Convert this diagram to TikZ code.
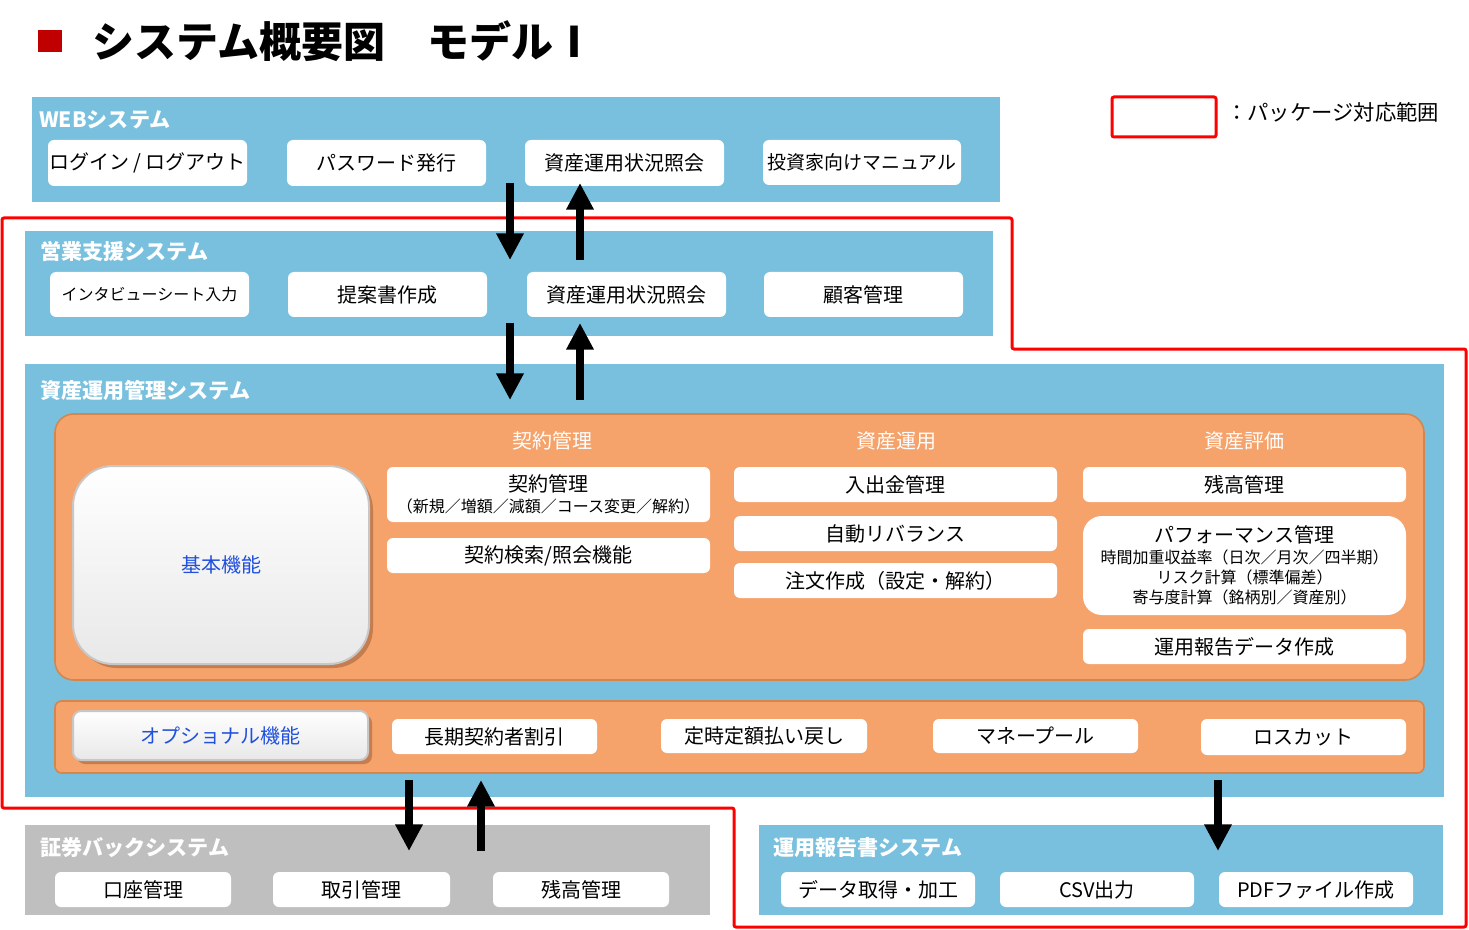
\documentclass[tikz,border=0pt]{standalone}
\usepackage{fontspec}
\setmainfont{Noto Sans CJK JP}
\usetikzlibrary{arrows.meta,shadows}
\definecolor{skyb}{HTML}{78C0DE}
\definecolor{orng}{HTML}{F6A26B}
\definecolor{orngD}{HTML}{D4864F}
\definecolor{shadowC}{HTML}{C07A4C}
\definecolor{grayb}{HTML}{BFBFBF}
\definecolor{titlered}{HTML}{C00000}
\definecolor{bluetxt}{HTML}{2050DC}
\definecolor{pkgred}{HTML}{FF0000}
\newcommand{\boxnode}[7]{\node[#1, anchor=north west, inner sep=0pt, outer sep=0pt, minimum width={(#4-#2)*0.75pt}, minimum height={(#5-#3)*0.75pt}] (#6) at (#2,#3) {#7};}
\tikzset{
  sysbox/.style={fill=skyb},
  backbox/.style={fill=grayb},
  hdr/.style={anchor=west, text=white, font=\fontsize{15.8}{18}\selectfont\bfseries, inner sep=0pt},
  btn/.style={fill=white, rounded corners=4.5pt, align=center, font=\fontsize{15}{18}\selectfont},
  smallbtn/.style={btn, font=\fontsize{12}{15}\selectfont},
  panel/.style={fill=orng, draw=orngD, line width=1.2pt, rounded corners=14pt},
  bar/.style={fill=orng, draw=orngD, line width=1.2pt, rounded corners=5pt},
  feat/.style={top color=white, bottom color=black!9, draw=black!22, line width=1.5pt, text=bluetxt, font=\fontsize{15}{18}\selectfont, drop shadow={shadow xshift=3pt, shadow yshift=-3pt, fill=shadowC, opacity=0.9}},
  colhdr/.style={text=white, font=\fontsize{15}{18}\selectfont, inner sep=0pt},
  arr/.style={line width=6.4pt, -{Triangle[width=19.5pt,length=20pt]}},
  pkgline/.style={draw=pkgred, line width=2.25pt, rounded corners=1.5pt},
}
\begin{document}
\begin{tikzpicture}[x=0.75pt,y=-0.75pt]
\useasboundingbox (0,0) rectangle (1469,930);
% title
\boxnode{fill=titlered}{38}{30}{62}{52}{bullet}{}
\node[anchor=west, inner sep=0pt, font=\fontsize{31.5}{36}\selectfont\bfseries] (title) at (92,41) {システム概要図　モデルⅠ};
% legend
\boxnode{pkgline}{1112}{97}{1216}{137}{legbox}{}
\node[anchor=west, inner sep=0pt, font=\fontsize{16}{18}\selectfont] (legtxt) at (1226,112) {：パッケージ対応範囲};
% package outline
\draw[pkgline] (2,218) -- (1012,218) -- (1012,349) -- (1466,349) -- (1466,927) -- (734,927) -- (734,808) -- (2,808) -- cycle;
% WEB system
\boxnode{sysbox}{32}{97}{1000}{202}{web}{}
\node[hdr] (webT) at (39,120) {WEBシステム};
\boxnode{btn}{48}{140}{247}{186}{web1}{ログイン / ログアウト}
\boxnode{btn}{287}{140}{486}{186}{web2}{パスワード発行}
\boxnode{btn}{525}{140}{724}{186}{web3}{資産運用状況照会}
\boxnode{btn, font=\fontsize{14.2}{17}\selectfont}{763}{140}{961}{185}{web4}{投資家向けマニュアル}
% sales support
\boxnode{sysbox}{25}{231}{993}{336}{eigyo}{}
\node[hdr] (eigyoT) at (40,251) {営業支援システム};
\boxnode{smallbtn}{50}{272}{249}{317}{s1}{インタビューシート入力}
\boxnode{btn}{288}{272}{487}{317}{s2}{提案書作成}
\boxnode{btn}{527}{272}{726}{317}{s3}{資産運用状況照会}
\boxnode{btn}{764}{272}{963}{317}{s4}{顧客管理}
% asset management system
\boxnode{sysbox}{25}{364}{1444}{797}{shisan}{}
\node[hdr] (shisanT) at (40,390) {資産運用管理システム};
\boxnode{panel}{55}{414}{1424}{680}{basic}{}
\node[colhdr] (c1) at (552,441) {契約管理};
\node[colhdr] (c2) at (896,441) {資産運用};
\node[colhdr] (c3) at (1244,441) {資産評価};
\boxnode{feat, rounded corners=30pt}{73}{466}{369}{664}{kihon}{基本機能}
\boxnode{btn, font=\fontsize{12}{15}\selectfont}{387}{467}{710}{522}{k1}{{\fontsize{15}{18}\selectfont 契約管理}\\[1pt]（新規／増額／減額／コース変更／解約）}
\boxnode{btn}{387}{538}{710}{573}{k2}{契約検索/照会機能}
\boxnode{btn}{734}{467}{1057}{502}{u1}{入出金管理}
\boxnode{btn}{734}{516}{1057}{551}{u2}{自動リバランス}
\boxnode{btn}{734}{563}{1057}{598}{u3}{注文作成（設定・解約）}
\boxnode{btn}{1083}{467}{1406}{502}{h1}{残高管理}
\boxnode{btn, rounded corners=14pt, font=\fontsize{12}{15}\selectfont}{1083}{516}{1406}{615}{h2}{{\fontsize{15}{18}\selectfont パフォーマンス管理}\\[1pt]時間加重収益率（日次／月次／四半期）\\リスク計算（標準偏差）\\寄与度計算（銘柄別／資産別）}
\boxnode{btn}{1083}{629}{1406}{664}{h3}{運用報告データ作成}
\boxnode{bar}{55}{701}{1424}{773}{optbar}{}
\boxnode{feat, rounded corners=6pt}{73}{711}{368}{760}{opt}{オプショナル機能}
\boxnode{btn}{392}{719}{597}{754}{o1}{長期契約者割引}
\boxnode{btn}{661}{719}{867}{753}{o2}{定時定額払い戻し}
\boxnode{btn}{933}{719}{1138}{753}{o3}{マネープール}
\boxnode{btn}{1201}{719}{1406}{755}{o4}{ロスカット}
% securities back system
\boxnode{backbox}{25}{825}{710}{915}{back}{}
\node[hdr] (backT) at (40,848) {証券バックシステム};
\boxnode{btn}{55}{872}{231}{907}{b1}{口座管理}
\boxnode{btn}{273}{872}{450}{907}{b2}{取引管理}
\boxnode{btn}{493}{872}{669}{907}{b3}{残高管理}
% report system
\boxnode{sysbox}{759}{825}{1443}{915}{report}{}
\node[hdr] (reportT) at (773,848) {運用報告書システム};
\boxnode{btn}{781}{872}{975}{907}{r1}{データ取得・加工}
\boxnode{btn}{1000}{872}{1194}{907}{r2}{CSV出力}
\boxnode{btn}{1219}{872}{1413}{907}{r3}{PDFファイル作成}
% arrow end points
\coordinate (a1s) at (510,183); \coordinate (a1e) at (510,260);
\coordinate (a2s) at (580,260); \coordinate (a2e) at (580,183);
\coordinate (a3s) at (510,323); \coordinate (a3e) at (510,400);
\coordinate (a4s) at (580,400); \coordinate (a4e) at (580,323);
\coordinate (a5s) at (409,780); \coordinate (a5e) at (409,851);
\coordinate (a6s) at (481,851); \coordinate (a6e) at (481,780);
\coordinate (a7s) at (1218,780); \coordinate (a7e) at (1218,851);
\draw[arr] (a1s) -- (a1e);
\draw[arr] (a2s) -- (a2e);
\draw[arr] (a3s) -- (a3e);
\draw[arr] (a4s) -- (a4e);
\draw[arr] (a5s) -- (a5e);
\draw[arr] (a6s) -- (a6e);
\draw[arr] (a7s) -- (a7e);
\end{tikzpicture}
\end{document}
